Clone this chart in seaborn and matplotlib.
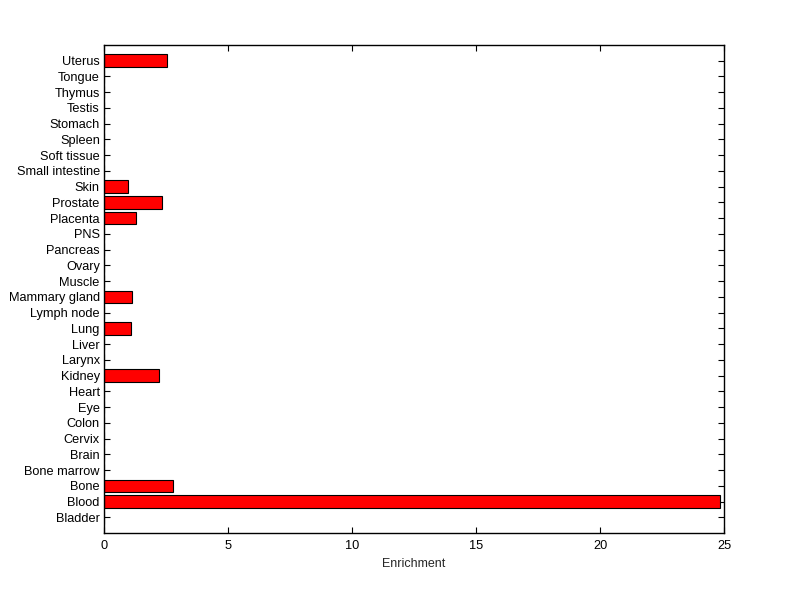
import pandas as pd
import matplotlib
matplotlib.use("Agg")
import matplotlib.pyplot as plt
import seaborn as sns

# Tissues listed top to bottom as they appear in the chart
tissues = ["Uterus", "Tongue", "Thymus", "Testis", "Stomach", "Spleen",
           "Soft tissue", "Small intestine", "Skin", "Prostate", "Placenta",
           "PNS", "Pancreas", "Ovary", "Muscle", "Mammary gland", "Lymph node",
           "Lung", "Liver", "Larynx", "Kidney", "Heart", "Eye", "Colon",
           "Cervix", "Brain", "Bone marrow", "Bone", "Blood", "Bladder"]
enrichment = [2.56, 0, 0, 0, 0, 0,
              0, 0, 0.96, 2.32, 1.31,
              0, 0, 0, 0, 1.11, 0,
              1.07, 0, 0, 2.23, 0, 0, 0,
              0, 0, 0, 2.80, 24.82, 0]

df = pd.DataFrame({"Tissue": tissues, "Enrichment": enrichment})

sns.set_style("ticks")
plt.rcParams['font.family'] = ['Liberation Sans', 'DejaVu Sans']

fig = plt.figure(figsize=(8, 5.99), dpi=100)
ax = fig.add_axes([0.13, 0.11, 0.775, 0.815])

sns.barplot(data=df, x="Enrichment", y="Tissue", order=tissues, orient="h",
            color="#ff0000", saturation=1, width=0.8, edgecolor="black",
            linewidth=0.8, ax=ax)

ax.set_xlim(0, 25)
ax.set_ylim(len(tissues), -1)
ax.set_xticks([0, 5, 10, 15, 20, 25])
ax.set_xlabel("Enrichment", fontsize=9)
ax.set_ylabel("")

for s in ax.spines.values():
    s.set_visible(True)
    s.set_linewidth(1.0)
    s.set_color("black")

ax.tick_params(axis="both", which="both", direction="in", length=4,
               width=0.8, top=True, right=True, labelsize=9.2, colors="black")
ax.tick_params(axis="y", pad=3)
ax.tick_params(axis="x", pad=5)

fig.savefig("out.png", dpi=100, facecolor="white")
